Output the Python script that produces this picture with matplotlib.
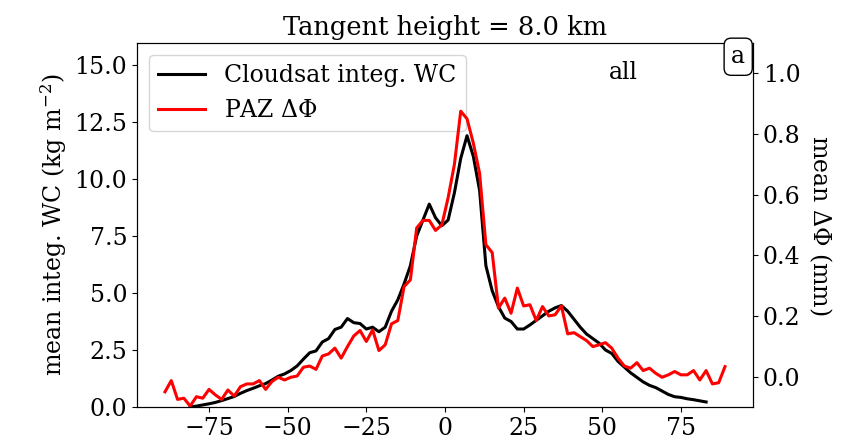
import numpy as np
from matplotlib import pyplot as plt

plt.rcParams['font.family'] = 'DejaVu Serif'
plt.rcParams['mathtext.fontset'] = 'dejavuserif'
plt.rcParams['font.size'] = 17

# latitude bins (deg)
lat_wc = np.arange(-81, 84, 2)
lat_paz = np.arange(-89, 90, 2)

# mean integrated water content, kg m-2
wc = [0.0, 0.04, 0.09, 0.14, 0.2, 0.28, 0.37, 0.46, 0.6, 0.72,
      0.82, 0.93, 1.03, 1.18, 1.35, 1.45, 1.6, 1.8, 2.1, 2.38,
      2.46, 2.85, 3.0, 3.4, 3.5, 3.88, 3.7, 3.66, 3.42, 3.5,
      3.3, 3.5, 4.2, 4.7, 5.4, 6.2, 7.5, 8.2, 8.9, 8.3,
      7.95, 8.2, 9.4, 10.9, 11.9, 11.0, 9.5, 6.2, 5.1, 4.4,
      3.9, 3.75, 3.42, 3.42, 3.6, 3.8, 4.0, 4.2, 4.35, 4.45,
      4.2, 3.85, 3.5, 3.2, 3.0, 2.8, 2.5, 2.35, 2.0, 1.75,
      1.5, 1.3, 1.1, 0.95, 0.85, 0.7, 0.55, 0.45, 0.42, 0.36,
      0.32, 0.27, 0.22]

# mean PAZ phase difference, mm
dphi = [-0.05, -0.013, -0.075, -0.071, -0.097, -0.066, -0.071, -0.042, -0.06, -0.075,
        -0.044, -0.064, -0.033, -0.024, -0.024, -0.013, -0.042, -0.016, -0.002, -0.011,
        -0.002, 0.002, 0.031, 0.035, 0.024, 0.068, 0.075, 0.094, 0.061, 0.099,
        0.134, 0.152, 0.116, 0.154, 0.086, 0.105, 0.174, 0.185, 0.297, 0.319,
        0.49, 0.515, 0.515, 0.482, 0.5, 0.59, 0.70, 0.875, 0.85, 0.77,
        0.67, 0.435, 0.409, 0.226, 0.259, 0.209, 0.292, 0.233, 0.237, 0.185,
        0.231, 0.2, 0.204, 0.233, 0.141, 0.145, 0.132, 0.119, 0.099, 0.105,
        0.112, 0.094, 0.061, 0.035, 0.028, 0.046, 0.02, 0.028, 0.011, -0.002,
        0.006, 0.017, 0.006, 0.006, 0.02, -0.011, 0.02, -0.024, -0.02, 0.033]

fig = plt.figure(figsize=(8.67, 4.47), dpi=100)
ax = fig.add_axes([0.158, 0.0895, 0.7105, 0.8145])
ax2 = ax.twinx()

l1, = ax.plot(lat_wc, wc, color='black', lw=2.2, label='Cloudsat integ. WC')
l2, = ax2.plot(lat_paz, dphi, color='red', lw=2.2, label='PAZ $\\Delta\\Phi$')

ax.set_xlim(-97.9, 97.9)
ax.set_ylim(0, 15.97)
ax2.set_ylim(-0.1, 1.1)
ax.set_xticks([-75, -50, -25, 0, 25, 50, 75])
ax.set_yticks(np.arange(0, 15.1, 2.5))
ax2.set_yticks(np.arange(0, 1.01, 0.2))

ax.set_ylabel('mean integ. WC (kg m$^{-2}$)')
ax2.set_ylabel('mean $\\Delta\\Phi$ (mm)', rotation=270, labelpad=24)
ax.set_title('Tangent height = 8.0 km', fontsize=18.5)

ax.legend(handles=[l1, l2], loc='upper left')
ax.text(0.79, 0.92, 'all', transform=ax.transAxes, ha='center', va='center')
ax2.text(0.976, 0.962, 'a', transform=ax.transAxes, ha='center', va='center',
         bbox=dict(boxstyle='round', facecolor='white', edgecolor='black'))

plt.savefig('out.png', dpi=100)
